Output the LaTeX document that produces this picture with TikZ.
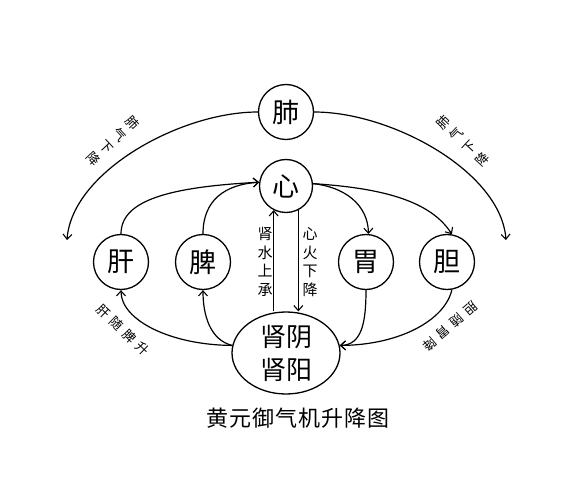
\documentclass[tikz,border=0pt]{standalone}
\usepackage{fontspec}
\setmainfont{Noto Sans CJK SC}
\usetikzlibrary{arrows.meta,shapes.geometric}
\begin{document}
\begin{tikzpicture}[x=1pt,y=-1pt,
  organ/.style={circle,draw,line width=1.3pt,minimum size=55pt,inner sep=0pt,font=\fontsize{27}{27}\selectfont},
  link/.style={line width=1.2pt,-{Straight Barb[length=5pt,width=9pt,line width=1.1pt]}},
  vcol/.style={font=\fontsize{13}{18}\selectfont,align=center,inner sep=0pt},
  hrow/.style={font=\fontsize{13}{13}\selectfont,inner sep=0pt},
  vlbl/.style={font=\fontsize{15}{18.5}\selectfont,align=center,inner sep=0pt}]
\useasboundingbox[fill=white] (0,0) rectangle (584,500);

% organs
\node[organ] (fei) at (286,112) {肺};
\node[organ,minimum size=53pt] (xin) at (286,186) {心};
\node[organ] (gan) at (121,262) {肝};
\node[organ] (pi)  at (203,262) {脾};
\node[organ] (wei) at (366,262) {胃};
\node[organ] (dan) at (447,262) {胆};
\node[ellipse,draw,line width=1.3pt,minimum width=108pt,minimum height=82pt,inner sep=0pt,
      align=center,font=\fontsize{26}{33}\selectfont] (shen) at (286,353) {肾阴\\肾阳};

% free ends of the lung arcs
\coordinate (fl) at (67,240);
\coordinate (fr) at (506,240);

% lung qi descending
\draw[link] (fei.180) .. controls (180,112) and (72,172) .. (fl);
\draw[link] (fei.0) .. controls (392,112) and (501,172) .. (fr);

% liver / spleen up to heart
\draw[link] (gan.90) .. controls (121,200) and (170,187) .. (xin.172);
\draw[link] (pi.90) .. controls (203,200) and (225,184.5) .. (xin.172);

% heart down to stomach / gallbladder
\draw[link] (xin.5) .. controls (345,187) and (368,205) .. (wei.85);
\draw[link] (xin.5) .. controls (380,188) and (430,200) .. (dan.80);

% kidney up to liver / spleen
\draw[link] (shen.172) .. controls (170,345) and (121,320) .. (gan.270);
\draw[link] (shen.172) .. controls (210,340) and (203,315) .. (pi.270);

% stomach / gallbladder down to kidney
\draw[link] (dan.280) .. controls (445,320) and (400,345) .. (shen.8);
\draw[link] (wei.270) .. controls (366,322) and (362,345) .. (shen.8);

% kidney water up, heart fire down
\draw[link] (xin.243 |- shen.north) -- (xin.243);
\draw[link] (xin.297) -- (xin.297 |- shen.north);

\node[vlbl] (lbl1) at (265,262) {肾\\水\\上\\承};
\node[vlbl] (lbl2) at (310,262) {心\\火\\下\\降};

% arc labels
\node[vcol,rotate=-47] (lblul) at (113,141) {肺\\气\\下\\降};
\node[vcol,rotate=47]  (lblur) at (463,141) {肺\\气\\下\\降};
\node[hrow,rotate=-44] (lblll) at (123.5,330) {肝\kern5pt 随\kern5pt 脾\kern5pt 升};
\node[hrow,rotate=-139] (lbllr) at (450,326.5) {胆\kern5pt 随\kern5pt 胃\kern5pt 降};

% caption
\node[font=\fontsize{22}{22}\selectfont,inner sep=0pt] (cap) at (298,418)
  {黄\kern1pt 元\kern1pt 御\kern1pt 气\kern1pt 机\kern1pt 升\kern1pt 降\kern1pt 图};
\end{tikzpicture}
\end{document}
